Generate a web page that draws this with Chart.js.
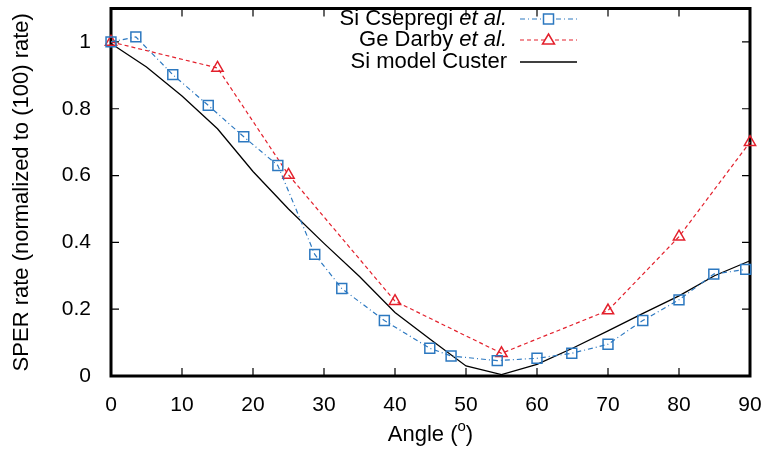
<!DOCTYPE html>
<html>
<head>
<meta charset="utf-8">
<script src="https://cdn.jsdelivr.net/npm/chart.js@4.4.0/dist/chart.umd.min.js"></script>
<style>
  html, body { margin: 0; padding: 0; background: #fff; }
</style>
</head>
<body>
<canvas id="myChart" width="767" height="452"></canvas>
<script>
// Si Csepregi et al. (squares)
var siAngle = [0, 3.5, 8.7, 13.7, 18.7, 23.5, 28.7, 32.5, 38.5, 44.9, 47.9, 54.4, 60, 64.9, 70, 74.9, 80, 84.9, 89.4];
var siRate = [1.0, 1.015, 0.902, 0.81, 0.716, 0.63, 0.364, 0.262, 0.166, 0.083, 0.06, 0.046, 0.053, 0.068, 0.095, 0.166, 0.228, 0.305, 0.319];

// Ge Darby et al. (triangles)
var geAngle = [0, 15, 25, 40, 55, 70, 80, 90];
var geRate = [1.0, 0.922, 0.602, 0.224, 0.068, 0.196, 0.417, 0.70];

// Si model Custer (solid line)
var modelAngle = [0, 5, 10, 15, 20, 25, 30, 35, 40, 45, 50, 55, 60, 65, 70, 75, 80, 85, 90];
var modelRate = [0.995, 0.925, 0.838, 0.74, 0.612, 0.5, 0.397, 0.298, 0.19, 0.109, 0.03, 0.004, 0.035, 0.083, 0.135, 0.188, 0.24, 0.3, 0.345];

var seriesNames = ["Si Csepregi et al.", "Ge Darby et al.", "Si model Custer"];
var xTicks = [0, 10, 20, 30, 40, 50, 60, 70, 80, 90];
var yTicks = [0, 0.2, 0.4, 0.6, 0.8, 1];

var blue = "#2c78c0";
var red = "#e3202c";
var font = "'Liberation Sans', Arial, sans-serif";

function pts(xs, ys) {
  return xs.map(function (x, i) { return { x: x, y: ys[i] }; });
}

var framePlugin = {
  id: "frame",
  beforeDatasetsDraw: function (chart) {
    var ctx = chart.ctx, a = chart.chartArea;
    var xs = chart.scales.x, ys = chart.scales.y;
    ctx.save();
    ctx.strokeStyle = "#000";
    ctx.lineWidth = 1.2;
    ctx.beginPath();
    xTicks.forEach(function (v) {
      var px = xs.getPixelForValue(v);
      ctx.moveTo(px, a.bottom); ctx.lineTo(px, a.bottom - 8);
      ctx.moveTo(px, a.top); ctx.lineTo(px, a.top + 8);
    });
    yTicks.forEach(function (v) {
      var py = ys.getPixelForValue(v);
      ctx.moveTo(a.left, py); ctx.lineTo(a.left + 8, py);
      ctx.moveTo(a.right, py); ctx.lineTo(a.right - 8, py);
    });
    ctx.stroke();
    ctx.lineWidth = 3;
    ctx.strokeRect(a.left, a.top, a.right - a.left, a.bottom - a.top);
    ctx.restore();
  },
  afterDraw: function (chart) {
    var ctx = chart.ctx, a = chart.chartArea;
    ctx.save();
    // x axis title with superscript o
    ctx.fillStyle = "#000";
    ctx.textBaseline = "alphabetic";
    var t1 = "Angle (", t3 = ")";
    ctx.font = "15px " + font;
    var w2 = ctx.measureText("o").width;
    ctx.font = "22px " + font;
    var w1 = ctx.measureText(t1).width, w3 = ctx.measureText(t3).width;
    var cx = (a.left + a.right) / 2;
    var x0 = cx - (w1 + w2 + w3) / 2;
    var base = 441;
    ctx.textAlign = "left";
    ctx.fillText(t1, x0, base);
    ctx.font = "15px " + font;
    ctx.fillText("o", x0 + w1, base - 10);
    ctx.font = "22px " + font;
    ctx.fillText(t3, x0 + w1 + w2, base);

    // legend: text right aligned, sample on the right
    var right = 507, lx0 = 520, lx1 = 577, rows = [19, 40, 62];
    chart.data.datasets.forEach(function (ds, i) {
      var y = rows[i];
      var name = seriesNames[i];
      var k = name.indexOf("et al.");
      ctx.textBaseline = "middle";
      ctx.textAlign = "right";
      if (k >= 0) {
        ctx.font = "italic 22px " + font;
        var wi = ctx.measureText("et al.").width;
        ctx.fillText("et al.", right, y);
        ctx.font = "22px " + font;
        ctx.fillText(name.slice(0, k), right - wi, y);
      } else {
        ctx.font = "22px " + font;
        ctx.fillText(name, right, y);
      }
      ctx.strokeStyle = ds.borderColor;
      ctx.lineWidth = ds.borderWidth;
      ctx.setLineDash(ds.borderDash || []);
      ctx.beginPath();
      ctx.moveTo(lx0, y); ctx.lineTo(lx1, y);
      ctx.stroke();
      ctx.setLineDash([]);
      var mx = (lx0 + lx1) / 2;
      ctx.lineWidth = 1.5;
      ctx.fillStyle = "#fff";
      if (ds.pointStyle === "rect") {
        ctx.fillRect(mx - 5, y - 5, 10, 10);
        ctx.strokeRect(mx - 5, y - 5, 10, 10);
      } else if (ds.pointStyle === "triangle") {
        ctx.beginPath();
        ctx.moveTo(mx, y - 6);
        ctx.lineTo(mx + 6, y + 4);
        ctx.lineTo(mx - 6, y + 4);
        ctx.closePath();
        ctx.fill();
        ctx.stroke();
      }
      ctx.fillStyle = "#000";
    });
    ctx.restore();
  }
};

new Chart(document.getElementById("myChart"), {
  type: "line",
  data: {
    datasets: [
      {
        label: seriesNames[0],
        data: pts(siAngle, siRate),
        borderColor: blue,
        borderWidth: 1.2,
        borderDash: [5, 3, 1, 3],
        pointStyle: "rect",
        pointRadius: 7,
        pointBorderWidth: 1.5,
        pointBackgroundColor: "rgba(0,0,0,0)",
        pointBorderColor: blue,
        tension: 0,
        clip: false
      },
      {
        label: seriesNames[1],
        data: pts(geAngle, geRate),
        borderColor: red,
        borderWidth: 1.2,
        borderDash: [4, 3],
        pointStyle: "triangle",
        pointRadius: 6.5,
        pointBorderWidth: 1.5,
        pointBackgroundColor: "rgba(0,0,0,0)",
        pointBorderColor: red,
        tension: 0,
        clip: false
      },
      {
        label: seriesNames[2],
        data: pts(modelAngle, modelRate),
        borderColor: "#000",
        borderWidth: 1.3,
        pointRadius: 0,
        tension: 0,
        clip: false
      }
    ]
  },
  options: {
    responsive: false,
    animation: false,
    layout: { padding: { top: 3, right: 17, left: 0, bottom: 0 } },
    plugins: {
      legend: { display: false },
      tooltip: { enabled: false }
    },
    scales: {
      x: {
        type: "linear",
        min: 0,
        max: 90,
        grid: { display: false },
        border: { display: false },
        afterBuildTicks: function (s) { s.ticks = xTicks.map(function (v) { return { value: v }; }); },
        afterFit: function (s) { s.height = 76; s.paddingLeft = 0; s.paddingRight = 0; },
        ticks: {
          padding: 9,
          color: "#000",
          font: { family: font, size: 21 },
          maxRotation: 0,
          callback: function (v) { return String(v); }
        }
      },
      y: {
        min: 0,
        max: 1.1,
        grid: { display: false },
        border: { display: false },
        afterBuildTicks: function (s) { s.ticks = yTicks.map(function (v) { return { value: v }; }); },
        afterFit: function (s) { s.width = 111; s.paddingTop = 0; s.paddingBottom = 0; },
        ticks: {
          padding: 12,
          color: "#000",
          font: { family: font, size: 21 },
          callback: function (v) { return String(+v.toFixed(1)); }
        },
        title: {
          display: true,
          text: "SPER rate (normalized to (100) rate)",
          color: "#000",
          font: { family: font, size: 22 },
          padding: { top: 9, bottom: 0 }
        }
      }
    }
  },
  plugins: [framePlugin]
});
</script>
</body>
</html>
